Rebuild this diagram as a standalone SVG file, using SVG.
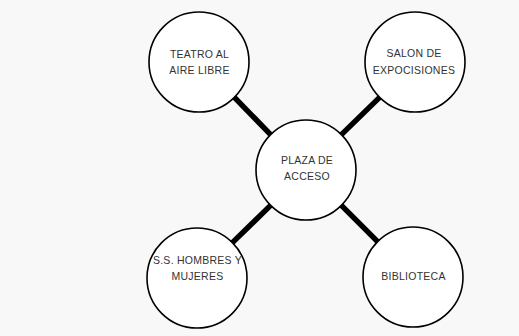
<svg xmlns="http://www.w3.org/2000/svg" width="519" height="336" viewBox="0 0 519 336">
  <style>
    .node circle { fill: #ffffff; stroke: #000000; stroke-width: 1.6; }
    .node text { font-family: "Liberation Sans", Arial, sans-serif; font-size: 10.5px; letter-spacing: 0.25px; fill: #333333; text-anchor: middle; }
    .conn line { stroke: #000000; stroke-width: 5.5; stroke-linecap: round; }
  </style>
  <rect x="0" y="0" width="519" height="336" fill="#f8f8f8"/>
  <g id="connectors" class="conn">
    <line x1="234.4" y1="97.4" x2="270.6" y2="134.6"/>
    <line x1="379.6" y1="97.4" x2="341.4" y2="134.6"/>
    <line x1="232.4" y1="242.6" x2="270.6" y2="205.4"/>
    <line x1="377.6" y1="241.6" x2="341.4" y2="205.4"/>
  </g>
  <g id="teatro" class="node">
    <circle cx="199" cy="62" r="50"/>
    <text x="199.5" y="58">TEATRO AL</text>
    <text x="199.5" y="74">AIRE LIBRE</text>
  </g>
  <g id="salon" class="node">
    <circle cx="415" cy="62" r="50"/>
    <text x="414" y="57">SALON DE</text>
    <text x="414" y="74">EXPOCISIONES</text>
  </g>
  <g id="plaza" class="node">
    <circle cx="306" cy="170" r="50"/>
    <text x="307" y="164">PLAZA DE</text>
    <text x="307" y="180">ACCESO</text>
  </g>
  <g id="sanitarios" class="node">
    <circle cx="197" cy="278" r="50"/>
    <text x="197.5" y="264">S.S. HOMBRES Y</text>
    <text x="197.5" y="280">MUJERES</text>
  </g>
  <g id="biblioteca" class="node">
    <circle cx="413" cy="277" r="50"/>
    <text x="413.5" y="280">BIBLIOTECA</text>
  </g>
</svg>
